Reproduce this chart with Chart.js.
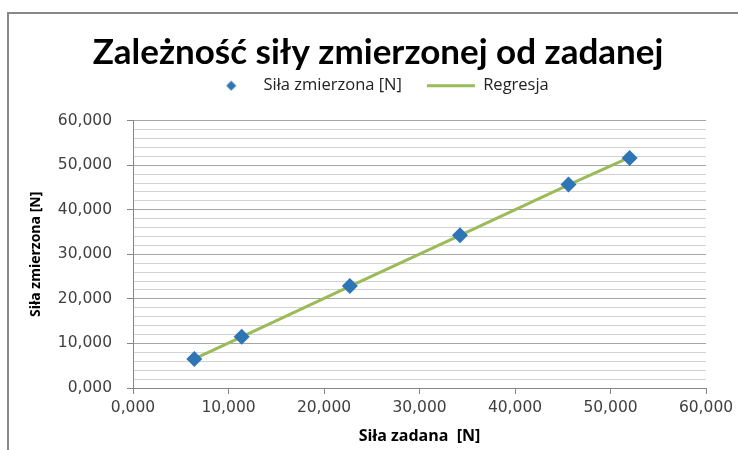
<!DOCTYPE html>
<html>
<head>
<meta charset="utf-8">
<script src="https://cdn.jsdelivr.net/npm/chart.js"></script>
<style>
  html, body { margin: 0; padding: 0; background: #fff; overflow: hidden; }
  #frame { position: absolute; left: 7px; top: 12px; width: 800px; height: 500px;
           border-top: 2px solid #878787; border-left: 2px solid #878787; }
  #wrap { position: absolute; left: 0; top: 0; width: 748px; height: 450px; }
</style>
</head>
<body>
<div id="frame"></div>
<div id="wrap"><canvas id="forceChart"></canvas></div>
<script>
// Siła zadana [N] vs Siła zmierzona [N]
const silaZadana = [6.42, 11.38, 22.70, 34.24, 45.60, 52.00];
const silaZmierzona = [6.50, 11.50, 22.90, 34.30, 45.70, 51.60];
const regresja = [6.55, 11.50, 22.80, 34.25, 45.60, 51.75];
const LABEL_POINTS = 'Siła zmierzona [N]';
const LABEL_REG = 'Regresja';

const BLUE = '#2e75b6';
const GREEN = '#9bbb59';

const fmt = v => v.toFixed(3).replace('.', ',');

const pointsData = silaZadana.map((x, i) => ({ x: x, y: silaZmierzona[i] }));
const regData = silaZadana.map((x, i) => ({ x: x, y: regresja[i] }));

// small diamond for the legend (pointStyleWidth would stretch 'rectRot')
const legendDiamond = document.createElement('canvas');
legendDiamond.width = 11;
legendDiamond.height = 11;
const dctx = legendDiamond.getContext('2d');
dctx.fillStyle = BLUE;
dctx.beginPath();
dctx.moveTo(5.5, 0.5);
dctx.lineTo(10.5, 5.5);
dctx.lineTo(5.5, 10.5);
dctx.lineTo(0.5, 5.5);
dctx.closePath();
dctx.fill();

const ctx = document.getElementById('forceChart').getContext('2d');
const forceChart = new Chart(ctx, {
    type: 'scatter',
    data: {
        datasets: [{
            label: LABEL_POINTS,
            data: pointsData,
            pointStyle: 'rectRot',
            pointRadius: 8,
            pointHoverRadius: 8,
            backgroundColor: BLUE,
            borderColor: BLUE,
            borderWidth: 0
        }, {
            label: LABEL_REG,
            type: 'line',
            data: regData,
            showLine: true,
            pointRadius: 0,
            pointStyle: 'line',
            borderColor: GREEN,
            backgroundColor: GREEN,
            borderWidth: 3,
            fill: false
        }]
    },
    options: {
        responsive: true,
        maintainAspectRatio: false,
        animation: false,
        layout: { padding: { left: 8, right: 0, top: 0, bottom: 0 } },
        plugins: {
            tooltip: { enabled: false },
            title: {
                display: true,
                text: 'Zależność siły zmierzonej od zadanej',
                color: '#000',
                font: { family: 'Lato', size: 35, weight: 'bold', lineHeight: 1.2 },
                padding: { top: 32, bottom: -21.5 }
            },
            subtitle: {
                display: true,
                text: '',
                position: 'top',
                weight: 500,
                font: { size: 1, lineHeight: 1 },
                padding: { top: 15.7, bottom: 0 }
            },
            legend: {
                display: true,
                position: 'top',
                labels: {
                    usePointStyle: true,
                    pointStyleWidth: 48,
                    boxHeight: 8,
                    padding: 25,
                    color: '#222',
                    font: { family: 'Open Sans', size: 16.5 },
                    generateLabels: chart => {
                        const items = Chart.defaults.plugins.legend.labels.generateLabels(chart);
                        items.forEach(it => {
                            if (it.datasetIndex === 0) it.pointStyle = legendDiamond;
                            else it.lineWidth = 3;
                        });
                        return items;
                    }
                }
            }
        },
        scales: {
            x: {
                type: 'linear',
                min: 0,
                max: 60,
                afterFit: scale => { scale.height = 62; scale.paddingRight = 42; },
                border: { color: '#868686', width: 1 },
                grid: { drawOnChartArea: false, tickLength: 6, tickColor: '#868686' },
                ticks: {
                    stepSize: 10,
                    padding: 5,
                    color: '#404040',
                    font: { family: 'DejaVu Sans', size: 15.5 },
                    callback: v => fmt(v)
                },
                title: {
                    display: true,
                    text: 'Siła zadana  [N]',
                    color: '#000',
                    font: { family: 'Open Sans', size: 16, weight: 'bold' },
                    padding: { top: 0, bottom: 4 }
                }
            },
            y: {
                type: 'linear',
                min: 0,
                max: 60,
                afterFit: scale => { scale.width = 125; },
                border: { color: '#868686', width: 1 },
                grid: {
                    tickLength: 6,
                    color: c => (c.tick && c.tick.value % 10 === 0) ? '#a5a5a5' : '#d2d2d2',
                    tickColor: c => (c.tick && c.tick.value % 10 === 0) ? '#868686' : 'rgba(0,0,0,0)'
                },
                ticks: {
                    stepSize: 2,
                    autoSkip: false,
                    padding: 15,
                    color: '#404040',
                    font: { family: 'DejaVu Sans', size: 15.5 },
                    callback: v => (v % 10 === 0) ? fmt(v) : ''
                },
                title: {
                    display: true,
                    text: 'Siła zmierzona [N]',
                    color: '#000',
                    font: { family: 'Open Sans', size: 14, weight: 'bold' },
                    padding: { top: 20, bottom: 0 }
                }
            }
        }
    }
});
</script>
</body>
</html>
